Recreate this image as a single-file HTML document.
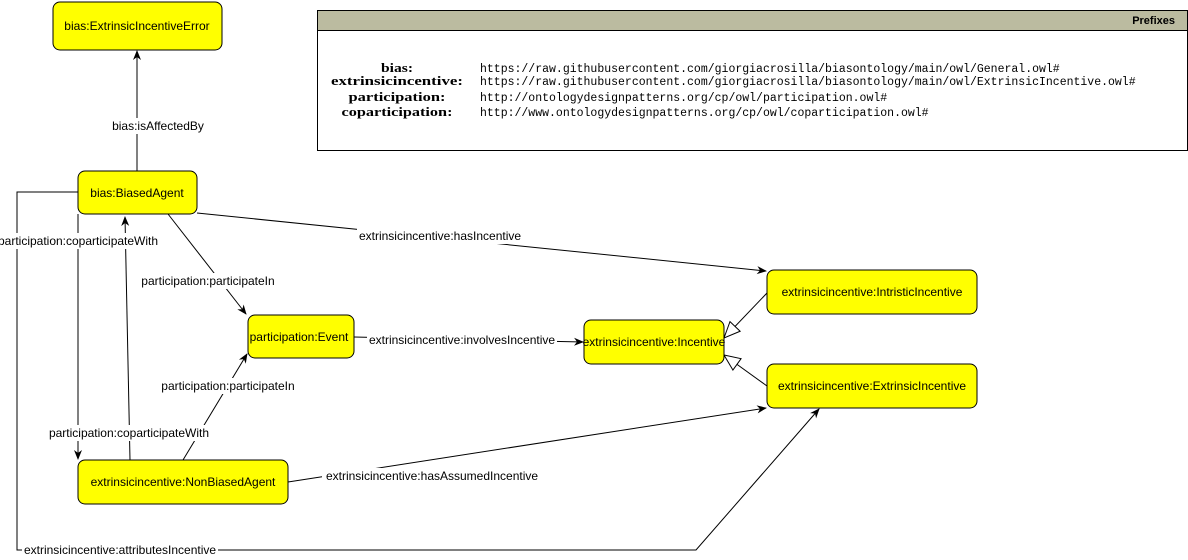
<!DOCTYPE html>
<html><head><meta charset="utf-8"><style>
html,body{margin:0;padding:0;background:#fff;width:1188px;height:560px;overflow:hidden}
svg{display:block;font-family:"Liberation Sans",Arial,sans-serif}
.n{fill:#ffff00;stroke:#000;stroke-width:1}
.t{font-size:12px;fill:#000;text-anchor:middle;dominant-baseline:central}
.l{font-size:12px;fill:#000;text-anchor:middle;dominant-baseline:central}
.e{stroke:#000;stroke-width:1;fill:none}
.m{font-family:"Liberation Mono",monospace;font-size:11.5px}
.mb{font-family:"Liberation Serif",serif;font-size:13px;font-weight:bold;text-anchor:middle}
</style></head><body>
<svg width="1188" height="560" viewBox="0 0 1188 560">
<defs>
<marker id="a" markerWidth="10" markerHeight="10" refX="9" refY="5" orient="auto" markerUnits="userSpaceOnUse"><path d="M0,1 L10,5 L0,9 L3,5 Z" fill="#000"/></marker>
<marker id="h" markerWidth="18" markerHeight="16" refX="17" refY="8" orient="auto" markerUnits="userSpaceOnUse"><path d="M1,1 L17,8 L1,15 Z" fill="#fff" stroke="#000"/></marker>
</defs>
<rect x="317.5" y="10.5" width="870" height="140" fill="#fff" stroke="#000"/>
<rect x="317.5" y="10.5" width="870" height="20" fill="#bbbba0" stroke="#000"/>
<text x="1175" y="21" font-size="11" font-weight="bold" text-anchor="end" dominant-baseline="central">Prefixes</text>
<g>
<text class="mb" x="397" y="72" textLength="32" lengthAdjust="spacingAndGlyphs">bias:</text>
<text class="mb" x="397" y="85" textLength="132" lengthAdjust="spacingAndGlyphs">extrinsicincentive:</text>
<text class="mb" x="397" y="101" textLength="97" lengthAdjust="spacingAndGlyphs">participation:</text>
<text class="mb" x="397" y="116" textLength="111" lengthAdjust="spacingAndGlyphs">coparticipation:</text>
<text class="m" x="480" y="72">https://raw.githubusercontent.com/giorgiacrosilla/biasontology/main/owl/General.owl#</text>
<text class="m" x="480" y="85">https://raw.githubusercontent.com/giorgiacrosilla/biasontology/main/owl/ExtrinsicIncentive.owl#</text>
<text class="m" x="480" y="101">http://ontologydesignpatterns.org/cp/owl/participation.owl#</text>
<text class="m" x="480" y="116">http://www.ontologydesignpatterns.org/cp/owl/coparticipation.owl#</text>
</g>
<line class="e" x1="137" y1="171" x2="137" y2="51" marker-end="url(#a)"/>
<line class="e" x1="197" y1="213" x2="766" y2="271" marker-end="url(#a)"/>
<line class="e" x1="168" y1="214" x2="246" y2="314" marker-end="url(#a)"/>
<line class="e" x1="354" y1="337" x2="583" y2="342" marker-end="url(#a)"/>
<line class="e" x1="767" y1="293" x2="724" y2="338" marker-end="url(#h)"/>
<line class="e" x1="767" y1="386" x2="724" y2="355" marker-end="url(#h)"/>
<line class="e" x1="183" y1="460" x2="247" y2="354" marker-end="url(#a)"/>
<line class="e" x1="130" y1="460" x2="125" y2="217" marker-end="url(#a)"/>
<line class="e" x1="78" y1="214" x2="78" y2="459" marker-end="url(#a)"/>
<line class="e" x1="288" y1="482" x2="766" y2="408" marker-end="url(#a)"/>
<polyline class="e" points="78,192 17,192 17,550 696,550 819,409" marker-end="url(#a)"/>
<g>
<rect x="108" y="118" width="100" height="16" fill="#fff"/><text class="l" x="158" y="126">bias:isAffectedBy</text>
<rect x="357" y="228" width="166" height="16" fill="#fff"/><text class="l" x="440" y="236">extrinsicincentive:hasIncentive</text>
<rect x="138" y="273" width="140" height="16" fill="#fff"/><text class="l" x="208" y="281">participation:participateIn</text>
<rect x="367" y="332" width="190" height="16" fill="#fff"/><text class="l" x="462" y="340">extrinsicincentive:involvesIncentive</text>
<rect x="158" y="378" width="140" height="16" fill="#fff"/><text class="l" x="228" y="386">participation:participateIn</text>
<rect x="46" y="425" width="166" height="16" fill="#fff"/><text class="l" x="129" y="433">participation:coparticipateWith</text>
<rect x="0" y="233" width="160" height="16" fill="#fff"/><text class="l" x="78" y="241">participation:coparticipateWith</text>
<rect x="322" y="468" width="220" height="16" fill="#fff"/><text class="l" x="432" y="476">extrinsicincentive:hasAssumedIncentive</text>
<rect x="22" y="542" width="196" height="16" fill="#fff"/><text class="l" x="120" y="550">extrinsicincentive:attributesIncentive</text>
</g>
<rect class="n" x="53" y="2" width="169" height="48" rx="7"/><text class="t" x="137" y="26">bias:ExtrinsicIncentiveError</text>
<rect class="n" x="78" y="171" width="119" height="43" rx="7"/><text class="t" x="137" y="193">bias:BiasedAgent</text>
<rect class="n" x="248" y="315" width="106" height="43" rx="7"/><text class="t" x="299" y="337">participation:Event</text>
<rect class="n" x="584" y="320" width="140" height="44" rx="7"/><text class="t" x="654" y="342">extrinsicincentive:Incentive</text>
<rect class="n" x="767" y="270" width="210" height="44" rx="7"/><text class="t" x="872" y="292">extrinsicincentive:IntristicIncentive</text>
<rect class="n" x="767" y="364" width="210" height="44" rx="7"/><text class="t" x="872" y="386">extrinsicincentive:ExtrinsicIncentive</text>
<rect class="n" x="78" y="460" width="210" height="44" rx="7"/><text class="t" x="183" y="482">extrinsicincentive:NonBiasedAgent</text>
</svg>
</body></html>
